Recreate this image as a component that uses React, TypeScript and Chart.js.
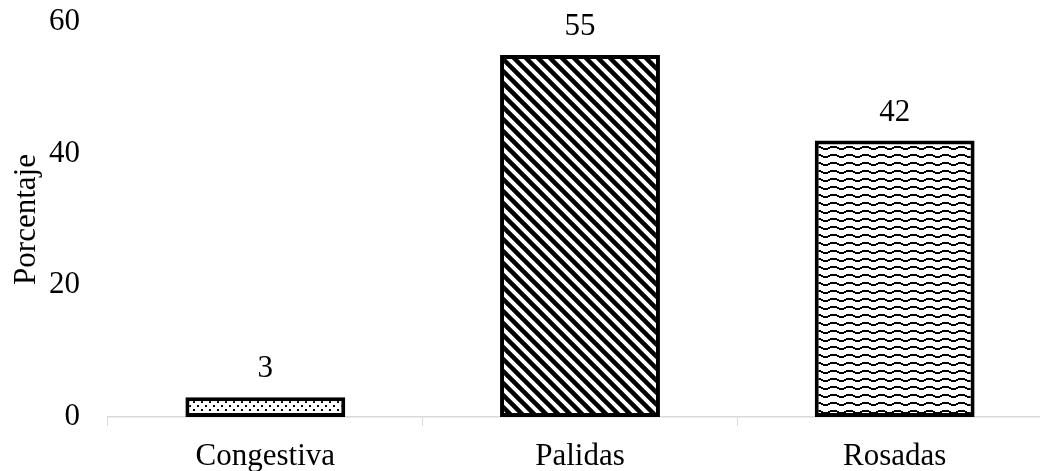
import React, { useEffect, useRef } from "react";
import { Chart, registerables } from "chart.js";

Chart.register(...registerables);

// Chart content
const categories = ["Congestiva", "Palidas", "Rosadas"];
const values = [3, 55, 42];
const yMin = 0;
const yMax = 60;
const yStep = 20;
const yTitle = "Porcentaje";

const FONT_FAMILY = "'Liberation Serif', 'Times New Roman', serif";
const FONT_SIZE = 31;

function makeTile(w: number, h: number, draw: (c: CanvasRenderingContext2D) => void): CanvasPattern {
  const tile = document.createElement("canvas");
  tile.width = w;
  tile.height = h;
  const c = tile.getContext("2d")!;
  c.fillStyle = "#ffffff";
  c.fillRect(0, 0, w, h);
  c.fillStyle = "#000000";
  c.strokeStyle = "#000000";
  draw(c);
  return c.createPattern(tile, "repeat")!;
}

// Staggered dots
function dottedFill(): CanvasPattern {
  return makeTile(8, 8, (c) => {
    c.fillRect(1, 1, 2, 2);
    c.fillRect(5, 5, 2, 2);
  });
}

// Wide downward diagonal stripes
function diagonalFill(): CanvasPattern {
  const s = 12;
  return makeTile(s, s, (c) => {
    c.lineWidth = 4.5;
    c.lineCap = "square";
    for (const off of [-s, 0, s]) {
      c.beginPath();
      c.moveTo(off, 0);
      c.lineTo(off + s, s);
      c.stroke();
    }
  });
}

// Small stepped waves
function waveFill(): CanvasPattern {
  return makeTile(16, 8, (c) => {
    c.fillRect(0, 2, 5, 2);
    c.fillRect(5, 3, 2, 2);
    c.fillRect(7, 4, 5, 2);
    c.fillRect(12, 3, 2, 2);
    c.fillRect(14, 2, 2, 2);
  });
}

const valueLabels = {
  id: "valueLabels",
  afterDatasetsDraw(chart: any) {
    const ctx: CanvasRenderingContext2D = chart.ctx;
    const meta = chart.getDatasetMeta(0);
    ctx.save();
    ctx.font = `${FONT_SIZE}px ${FONT_FAMILY}`;
    ctx.fillStyle = "#000000";
    ctx.textAlign = "center";
    ctx.textBaseline = "alphabetic";
    meta.data.forEach((bar: any, i: number) => {
      const { x, y } = bar.getProps(["x", "y"], true);
      ctx.fillText(String(values[i]), x, y - 20);
    });
    ctx.restore();
  },
};

export default function App() {
  const canvasRef = useRef<HTMLCanvasElement | null>(null);

  useEffect(() => {
    const canvas = canvasRef.current;
    if (!canvas) return;
    const fills = [dottedFill(), diagonalFill(), waveFill()];

    const chart = new Chart(canvas, {
      type: "bar",
      data: {
        labels: categories,
        datasets: [
          {
            data: values,
            backgroundColor: fills as any,
            borderColor: "#000000",
            borderWidth: 4,
            borderSkipped: false,
            barPercentage: 0.508,
            categoryPercentage: 1,
          },
        ],
      },
      options: {
        responsive: false,
        animation: false,
        devicePixelRatio: 1,
        layout: { padding: { top: 22, left: 0, right: 0, bottom: 0 } },
        plugins: {
          legend: { display: false },
          tooltip: { enabled: false },
        },
        scales: {
          x: {
            type: "category",
            offset: true,
            afterFit: (s: any) => {
              s.height = 54;
              s.paddingLeft = 0;
              s.paddingRight = 0;
            },
            grid: {
              display: true,
              offset: true,
              drawOnChartArea: false,
              drawTicks: true,
              tickLength: 9,
              color: "#d9d9d9",
              lineWidth: 1,
            },
            border: { display: true, color: "#d9d9d9", width: 1.5 },
            ticks: {
              color: "#000000",
              font: { family: FONT_FAMILY, size: FONT_SIZE },
              padding: 12,
              maxRotation: 0,
              autoSkip: false,
            },
          },
          y: {
            min: yMin,
            max: yMax,
            afterFit: (s: any) => {
              s.width = 108;
              s.paddingTop = 0;
              s.paddingBottom = 0;
            },
            grid: { display: false, drawTicks: false },
            border: { display: false },
            ticks: {
              stepSize: yStep,
              color: "#000000",
              font: { family: FONT_FAMILY, size: FONT_SIZE },
              padding: 28,
            },
            title: {
              display: true,
              text: yTitle,
              color: "#000000",
              font: { family: FONT_FAMILY, size: FONT_SIZE },
              padding: { top: 8, bottom: 0 },
            },
          },
        },
      },
      plugins: [valueLabels],
    });

    return () => chart.destroy();
  }, []);

  return (
    <div
      style={{
        position: "fixed",
        left: 0,
        top: 0,
        width: 1040,
        height: 471,
        overflow: "hidden",
        background: "#ffffff",
      }}
    >
      <canvas ref={canvasRef} width={1052} height={471} style={{ display: "block" }} />
    </div>
  );
}
